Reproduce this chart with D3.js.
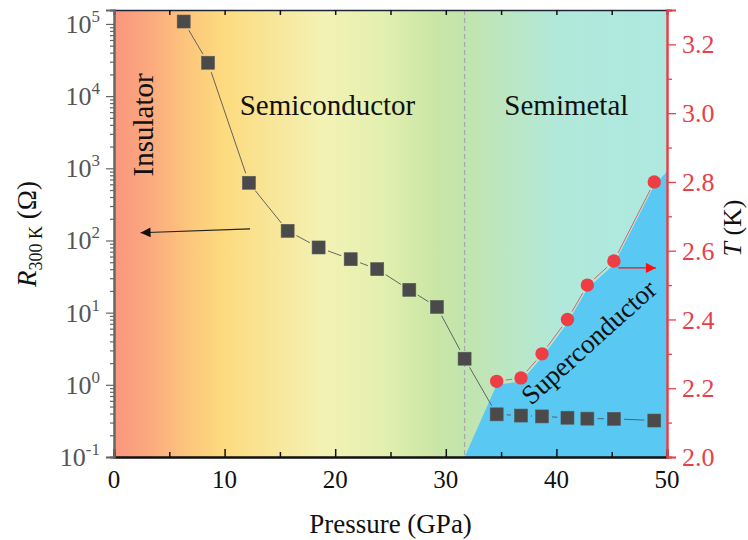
<!DOCTYPE html>
<html lang="en">
<head>
  <meta charset="UTF-8">
  <title>R300K and Tc vs pressure</title>
  <script src="https://cdn.jsdelivr.net/npm/d3@7"></script>
  <style>
    body { margin: 0; background: #fff; }
    svg text { font-family: "Liberation Serif", "Times New Roman", serif; }
  </style>
</head>
<body>
<svg id="chart"></svg>
<script>
  // resistance at 300 K (left axis, log)
  const pressure = [6.3, 8.5, 12.2, 15.7, 18.5, 21.4, 23.8, 26.7, 29.2, 31.7, 34.6, 36.8, 38.7, 41.0, 42.8, 45.2, 48.85]
  const resistance = [1.08e5, 2.9e4, 630, 136, 80, 55, 40, 20.7, 12, 2.3, 0.39, 0.375, 0.365, 0.35, 0.34, 0.338, 0.32]

  // superconducting Tc (right axis)
  const tcPressure = [34.6, 36.8, 38.7, 41.0, 42.8, 45.2, 48.85]
  const tc = [2.22, 2.23, 2.30, 2.40, 2.50, 2.57, 2.80]

  // boundary of the shaded superconducting region
  const scPressure = [31.7, 34.6, 36.8, 38.7, 41.0, 42.8, 45.2, 48.85, 50, 50]
  const scT = [2.0, 2.21, 2.22, 2.29, 2.39, 2.49, 2.56, 2.79, 2.83, 2.0]

  const boundaryP = 31.7
  const xTicks = [0, 10, 20, 30, 40, 50]
  const xMinor = [5, 15, 25, 35, 45]
  const decades = [-1, 0, 1, 2, 3, 4, 5]
  const tTicks = [2.0, 2.2, 2.4, 2.6, 2.8, 3.0, 3.2]
  const tMinor = [2.1, 2.3, 2.5, 2.7, 2.9, 3.1, 3.3]

  // background colour bands, by pressure
  const bgStops = [
    [0, "#fa957f"], [3, "#fba87e"], [7, "#fcc87c"], [10, "#fddb7f"], [14, "#f8e597"],
    [19, "#f3f2b4"], [24, "#e4f0b0"], [29, "#cae6a6"], [31.7, "#c2e5ad"], [35, "#bde6c0"],
    [40, "#b1e8d9"], [50, "#aee9e0"]
  ]

  const width = 748, height = 540
  const M = { l: 114, r: 81, t: 10, b: 83 }
  const svg = d3.select("#chart").attr("width", width).attr("height", height)
    .style("display", "block")

  const x = d3.scaleLinear().domain([0, 50]).range([M.l, width - M.r])
  const y = d3.scaleLog().domain([0.1, 1.56e5]).range([height - M.b, M.t])
  const yT = d3.scaleLinear().domain([2.0, 3.3]).range([height - M.b, M.t])

  const red = "#e8404a"
  const defs = svg.append("defs")
  const grad = defs.append("linearGradient").attr("id", "bg")
    .attr("gradientUnits", "userSpaceOnUse")
    .attr("x1", x(0)).attr("x2", x(50)).attr("y1", 0).attr("y2", 0)
  grad.selectAll("stop").data(bgStops).join("stop")
    .attr("offset", d => d[0] / 50)
    .attr("stop-color", d => d[1])

  defs.append("clipPath").attr("id", "clip").append("rect")
    .attr("x", x(0)).attr("y", M.t).attr("width", x(50) - x(0)).attr("height", height - M.b - M.t)

  function arrowHead(id, color) {
    defs.append("marker").attr("id", id)
      .attr("viewBox", "0 -5 10 10").attr("refX", 10).attr("refY", 0)
      .attr("markerWidth", 12).attr("markerHeight", 10).attr("markerUnits", "userSpaceOnUse")
      .attr("orient", "auto")
      .append("path").attr("d", "M0,-5L10,0L0,5Z").attr("fill", color)
  }
  arrowHead("arrowBlack", "#111")
  arrowHead("arrowRed", "#ff1010")

  const plot = svg.append("g").attr("clip-path", "url(#clip)")
  plot.append("rect")
    .attr("x", x(0)).attr("y", M.t).attr("width", x(50) - x(0)).attr("height", height - M.b - M.t)
    .attr("fill", "url(#bg)")

  // superconducting region
  plot.append("path")
    .datum(scPressure.map((p, i) => [p, scT[i]]))
    .attr("d", d3.line().x(d => x(d[0])).y(d => yT(d[1])))
    .attr("fill", "#59c9f3")

  plot.append("line")
    .attr("x1", x(boundaryP)).attr("x2", x(boundaryP))
    .attr("y1", M.t).attr("y2", height - M.b)
    .attr("stroke", "#a8a8a8").attr("stroke-width", 1.2).attr("stroke-dasharray", "5,3")

  // region labels
  const lab = svg.append("g").attr("font-size", 29).attr("fill", "#111")
  lab.append("text").attr("transform", `translate(${x(2.6)},${y(4000)}) rotate(-90)`)
    .attr("text-anchor", "middle").attr("dy", "0.35em").text("Insulator")
  lab.append("text").attr("x", x(19.3)).attr("y", 115).attr("text-anchor", "middle").text("Semiconductor")
  lab.append("text").attr("x", x(40.9)).attr("y", 115).attr("text-anchor", "middle").text("Semimetal")
  lab.append("text").attr("transform", `translate(${x(42.9)},${yT(2.335)}) rotate(-42)`)
    .attr("text-anchor", "middle").attr("dy", "0.35em").attr("font-size", 27).text("Superconductor")

  // connecting segments with a gap around each symbol
  function gapLines(g, pts, gap, color, w) {
    for (let i = 0; i < pts.length - 1; i++) {
      const [x1, y1] = pts[i], [x2, y2] = pts[i + 1]
      const len = Math.hypot(x2 - x1, y2 - y1)
      if (len <= 2 * gap) continue
      const ux = (x2 - x1) / len, uy = (y2 - y1) / len
      g.append("line")
        .attr("x1", x1 + ux * gap).attr("y1", y1 + uy * gap)
        .attr("x2", x2 - ux * gap).attr("y2", y2 - uy * gap)
        .attr("stroke", color).attr("stroke-width", w)
    }
  }

  const rPts = pressure.map((p, i) => [x(p), y(resistance[i])])
  const tPts = tcPressure.map((p, i) => [x(p), yT(tc[i])])
  const lines = svg.append("g")
  gapLines(lines, rPts, 10, "#555", 0.9)
  gapLines(lines, tPts, 9, "#e0505a", 0.9)

  svg.append("g").selectAll("rect").data(rPts).join("rect")
    .attr("x", d => d[0] - 6.5).attr("y", d => d[1] - 6.5)
    .attr("width", 13).attr("height", 13)
    .attr("fill", "#4a4a4a").attr("stroke", "#5a5a5a").attr("stroke-width", 0.6)

  svg.append("g").selectAll("circle").data(tPts).join("circle")
    .attr("cx", d => d[0]).attr("cy", d => d[1]).attr("r", 6.7)
    .attr("fill", "#ee3d45")

  // arrows pointing at the axes
  svg.append("line")
    .attr("x1", x(12.3)).attr("y1", y(145)).attr("x2", x(2.4)).attr("y2", y(128))
    .attr("stroke", "#222").attr("stroke-width", 1.2).attr("marker-end", "url(#arrowBlack)")
  svg.append("line")
    .attr("x1", x(45.6)).attr("y1", yT(2.55)).attr("x2", x(49.0)).attr("y2", yT(2.55))
    .attr("stroke", "#ff1010").attr("stroke-width", 1.2).attr("marker-end", "url(#arrowRed)")

  // axes
  const yBot = height - M.b
  const gx = svg.append("g").attr("transform", `translate(0,${yBot})`)
  gx.call(d3.axisBottom(x).tickValues(xTicks).tickSize(-8).tickFormat(""))
  const gxm = svg.append("g").attr("transform", `translate(0,${yBot})`)
  gxm.call(d3.axisBottom(x).tickValues(xMinor).tickSize(-5).tickFormat(""))
  ;[gx, gxm].forEach(g => {
    g.select(".domain").attr("stroke", "#111").attr("stroke-width", 2)
    g.selectAll(".tick line").attr("stroke", "#111").attr("stroke-width", 1.5)
  })
  svg.append("g").selectAll("text").data(xTicks).join("text")
    .attr("x", d => x(d)).attr("y", yBot + 31).attr("text-anchor", "middle")
    .attr("font-size", 25).attr("fill", "#111").text(d => d)

  const gTop = svg.append("g").attr("transform", `translate(0,${M.t})`)
  gTop.call(d3.axisTop(x).tickValues(xTicks.concat(xMinor)).tickSize(-5).tickFormat(""))
  gTop.select(".domain").attr("stroke", "#1d2536").attr("stroke-width", 1.6)
  gTop.selectAll(".tick line").attr("stroke", "#111").attr("stroke-width", 1.5)

  // left log axis
  const minorR = []
  decades.forEach(e => { if (e < 5) for (let k = 2; k <= 9; k++) minorR.push(k * Math.pow(10, e)) })
  const gym = svg.append("g").attr("transform", `translate(${M.l},0)`)
  gym.call(d3.axisLeft(y).tickValues(minorR).tickSize(4).tickFormat(""))
  const gy = svg.append("g").attr("transform", `translate(${M.l},0)`)
  gy.call(d3.axisLeft(y).tickValues(decades.map(e => Math.pow(10, e))).tickSize(8).tickFormat(""))
  ;[gym, gy].forEach(g => {
    g.select(".domain").attr("stroke", "#666").attr("stroke-width", 2)
    g.selectAll(".tick line").attr("stroke", "#666").attr("stroke-width", 1.2)
  })
  const yLab = svg.append("g").attr("fill", "#555").attr("font-size", 26)
  decades.forEach(e => {
    const t = yLab.append("text").attr("x", M.l - 14).attr("y", y(Math.pow(10, e)) + 9)
      .attr("text-anchor", "end")
    t.append("tspan").text("10")
    t.append("tspan").attr("font-size", 17).attr("dy", -11).text(e)
  })

  // right Tc axis
  const gR = svg.append("g").attr("transform", `translate(${width - M.r},0)`)
  gR.call(d3.axisRight(yT).tickValues(tTicks).tickSize(9).tickFormat(""))
  const gRm = svg.append("g").attr("transform", `translate(${width - M.r},0)`)
  gRm.call(d3.axisRight(yT).tickValues(tMinor).tickSize(5).tickFormat(""))
  ;[gR, gRm].forEach(g => {
    g.select(".domain").attr("stroke", red).attr("stroke-width", 2)
    g.selectAll(".tick line").attr("stroke", red).attr("stroke-width", 1.3)
  })
  svg.append("g").selectAll("text").data(tTicks).join("text")
    .attr("x", width - M.r + 15).attr("y", d => yT(d)).attr("dy", "0.35em")
    .attr("font-size", 26).attr("fill", red).text(d => d.toFixed(1))

  // axis titles
  svg.append("text").attr("x", (x(0) + x(50)) / 2).attr("y", 533).attr("text-anchor", "middle")
    .attr("font-size", 27).attr("fill", "#111").text("Pressure (GPa)")

  const tl = svg.append("text").attr("transform", "translate(36,234) rotate(-90)")
    .attr("text-anchor", "middle").attr("font-size", 27).attr("fill", "#111")
  tl.append("tspan").attr("font-style", "italic").text("R")
  tl.append("tspan").attr("font-size", 18).attr("dy", 6).text("300 K")
  tl.append("tspan").attr("dy", -6).text(" (Ω)")

  const tr = svg.append("text").attr("transform", "translate(741,228) rotate(-90)")
    .attr("text-anchor", "middle").attr("font-size", 26).attr("fill", "#111")
  tr.append("tspan").attr("font-style", "italic").text("T")
  tr.append("tspan").text(" (K)")
</script>
</body>
</html>
